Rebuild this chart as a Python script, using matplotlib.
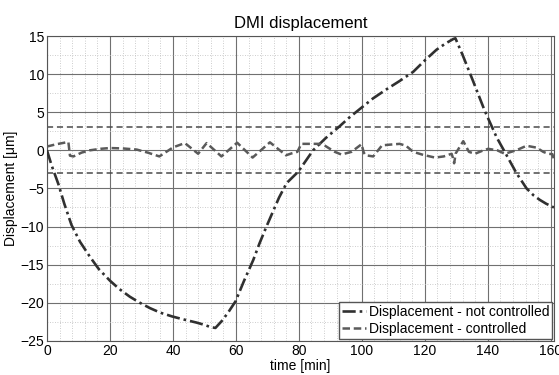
'''
DMI displacement: controlled vs not controlled over time.
'''
import matplotlib
matplotlib.use("Agg")
import matplotlib.pyplot as plt
from matplotlib.ticker import MultipleLocator

# Not-controlled displacement (time in min, displacement in um)
uncontrolled_time = [0, 1.5, 3.6, 5.5, 7.8, 10.5, 13.7, 16.5, 20, 23, 26.3, 29.5, 32.7,
                     36, 39.8, 43.5, 47.5, 50, 52, 53.5, 55.5, 57.5, 59.9, 62.5, 65.5,
                     67.5, 69.7, 71.8, 73.7, 76.1, 79.8, 84.5, 88.5, 92.5, 96, 99.9,
                     103.5, 107.8, 112, 116.3, 120, 123.7, 126.5, 129, 129.7, 132,
                     135.3, 139, 142.8, 145.9, 149.1, 152.3, 154.5, 156.5, 158.5, 161]
uncontrolled_disp = [0, -2.0, -4.4, -7.0, -9.8, -12.0, -14.0, -15.6, -17.1, -18.2, -19.2,
                     -20.0, -20.7, -21.3, -21.8, -22.2, -22.6, -22.9, -23.2, -23.3, -22.4,
                     -21.3, -19.8, -17.2, -14.4, -12.2, -10.0, -8.0, -6.2, -4.3, -2.8,
                     0.0, 1.6, 3.0, 4.3, 5.6, 6.8, 8.0, 9.1, 10.3, 11.8, 13.2, 14.0, 14.6,
                     14.7, 12.5, 9.1, 5.2, 1.7, -0.6, -3.0, -5.0, -5.9, -6.5, -7.0, -7.5]

# Controlled displacement
controlled_time = [0, 3, 6.8, 7.3, 8.4, 11, 13.6, 17, 20, 24, 28.5, 32, 35.7, 40.1, 43.8,
                   48, 50.7, 55.4, 60.4, 65.3, 70.8, 75.9, 77.7, 79.5, 80.8, 84, 86.7,
                   88.3, 91.4, 93.5, 96.7, 99.9, 100.6, 101.2, 103.6, 106.4, 109, 112,
                   114, 116.3, 119.5, 123.2, 126, 128.5, 129, 129.3, 129.8, 132.2, 134,
                   135.9, 138, 140.1, 143, 145.4, 149, 152.3, 155.5, 157.6, 159.1, 160.5,
                   161]
controlled_disp = [0.5, 0.8, 1.1, -0.7, -0.8, -0.3, 0.0, 0.2, 0.3, 0.25, 0.1, -0.3, -0.8,
                   0.4, 0.95, -0.45, 0.95, -0.8, 1.0, -0.95, 1.05, -0.65, -0.4, -0.2, 0.85,
                   0.85, 0.85, 0.6, -0.2, -0.55, -0.2, 0.8, -0.3, -0.65, -0.8, 0.65, 0.75,
                   0.85, 0.6, -0.2, -0.6, -0.95, -0.8, -0.45, -1.1, -1.7, -0.4, 1.2, -0.2,
                   -0.45, -0.1, 0.2, 0.0, -0.45, 0.0, 0.6, 0.35, -0.2, -0.45, -0.5, -1.2]

# Control limits
limit_levels = [3, -3]


def main() -> None:
  plt.rcParams["font.family"] = ["Liberation Sans", "DejaVu Sans"]
  fig = plt.figure(figsize=(5.59, 3.75), dpi=100)
  ax = fig.add_axes([0.084, 0.091, 0.907, 0.813])

  # Threshold lines
  for level in limit_levels:
    ax.axhline(level, color="#4a4a4a", lw=1.1, ls=(0, (4, 2.5)), zorder=2)

  ax.plot(uncontrolled_time, uncontrolled_disp, color="#303030", lw=1.9,
          ls=(0, (5, 1.5, 1, 1.5)), label="Displacement - not controlled", zorder=3)
  ax.plot(controlled_time, controlled_disp, color="#5a5a5a", lw=1.8,
          ls=(0, (3, 1.5)), label="Displacement - controlled", zorder=3)

  ax.set_xlim(0, 161)
  ax.set_ylim(-25, 15)
  ax.xaxis.set_major_locator(MultipleLocator(20))
  ax.xaxis.set_minor_locator(MultipleLocator(4))
  ax.yaxis.set_major_locator(MultipleLocator(5))
  ax.yaxis.set_minor_locator(MultipleLocator(2.5))
  ax.grid(True, which="major", color="#707070", lw=0.8, ls="-")
  ax.grid(True, which="minor", color="#bcbcbc", lw=0.6, ls=(0, (1, 2)))
  ax.set_axisbelow(True)
  ax.tick_params(which="both", direction="in", length=0, labelsize=10, pad=2)
  for spine in ax.spines.values():
    spine.set_color("#555555")
    spine.set_linewidth(0.8)

  ax.set_title("DMI displacement", fontsize=12, pad=6)
  ax.set_xlabel("time [min]", fontsize=10, labelpad=1)
  ax.set_ylabel("Displacement [\u03bcm]", fontsize=10, labelpad=2)

  ax.legend(loc="lower right", fontsize=10, frameon=True, fancybox=False,
            edgecolor="#555555", framealpha=1, handlelength=1.7, handletextpad=0.2,
            borderpad=0.2, labelspacing=0.2, borderaxespad=0.15)

  fig.savefig("out.png", dpi=100)


if __name__ == "__main__":
  main()
